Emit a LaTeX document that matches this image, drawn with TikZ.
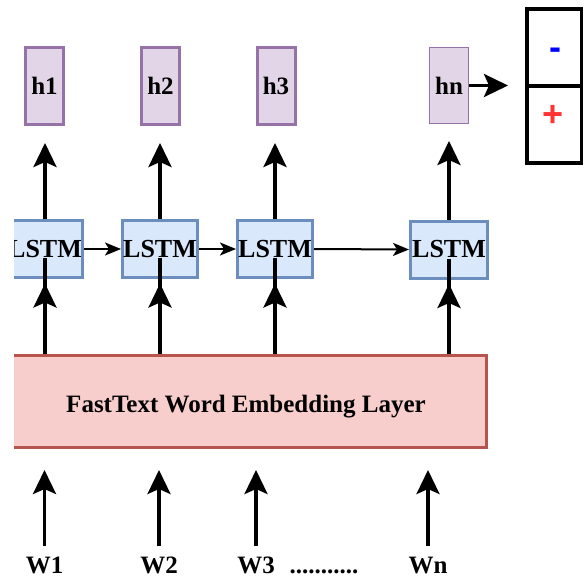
\documentclass[tikz,border=0pt]{standalone}
\usepackage{fontspec}
\setmainfont{Liberation Serif}
\newfontfamily\signfont{Liberation Sans}
\usetikzlibrary{arrows.meta}

\definecolor{hfill}{HTML}{E1D5E7}
\definecolor{hdraw}{HTML}{9673A6}
\definecolor{lfill}{HTML}{DAE8FC}
\definecolor{ldraw}{HTML}{6C8EBF}
\definecolor{efill}{HTML}{F8CECC}
\definecolor{edraw}{HTML}{B85450}
\definecolor{minuscol}{HTML}{0000FF}
\definecolor{pluscol}{HTML}{FF3333}

\tikzset{
  lbl/.style={font=\fontsize{25}{29}\selectfont\bfseries, inner sep=0pt},
  hbox/.style={lbl, draw=hdraw, fill=hfill, line width=3pt,
    minimum width=38pt, minimum height=77pt},
  lstmbox/.style={lbl, font=\fontsize{26}{30}\selectfont\bfseries,
    draw=ldraw, fill=lfill, line width=3pt,
    minimum width=75pt, minimum height=57pt},
  embbox/.style={draw=edraw, fill=efill, line width=3pt,
    minimum width=481pt, minimum height=92pt, inner sep=0pt},
  outcell/.style={draw=black, line width=3.5pt, minimum width=54.5pt,
    minimum height=76.5pt, inner sep=0pt},
  sign/.style={font=\fontsize{36}{40}\selectfont\signfont\bfseries,
    inner sep=0pt, anchor=base},
  bigline/.style={line width=3.5pt},
  bigarrow/.style={line width=3.5pt,
    -{Stealth[length=24pt,width=23pt,inset=5pt]}},
  smallarrow/.style={line width=2pt,
    -{Stealth[length=16pt,width=13pt,inset=4pt]}},
}

\begin{document}
\begin{tikzpicture}[x=1pt, y=-1pt]
\useasboundingbox (0,0) rectangle (584,578);

% hidden-state outputs
\node[hbox] (h1) at (44.5,86) {h1};
\node[hbox] (h2) at (160.5,86) {h2};
\node[hbox] (h3) at (276,86) {h3};
\node[hbox, line width=1pt, minimum width=39pt, minimum height=76pt]
  (hn) at (449,85.5) {hn};

% embedding layer and first cell are cut at the left edge
\begin{scope}
  \clip (14,0) rectangle (600,578);
  \node[embbox] (emb) at (246,401.5) {};
  \node[lstmbox] (l1) at (45,249) {LSTM};
\end{scope}
\node[lbl, anchor=base] (embtext) at (246,412) {FastText Word Embedding Layer};

% LSTM cells
\node[lstmbox] (l2) at (160,249) {LSTM};
\node[lstmbox] (l3) at (275,249) {LSTM};
\node[lstmbox, minimum width=77pt] (l4) at (449,249.5) {LSTM};

% classifier output
\node[outcell] (outtop) at (554,47.5) {};
\node[outcell, minimum height=77pt] (outbot) at (554,124.5) {};
\node[sign, text=minuscol] (sminus) at (555,60) {-};
\node[sign, text=pluscol] (splus) at (553,126.5) {+};

% input words
\node[lbl, anchor=base] (w1) at (44.5,573) {W1};
\node[lbl, anchor=base] (w2) at (159,573) {W2};
\node[lbl, anchor=base] (w3) at (256,573) {W3};
\node[lbl, anchor=base] (dots) at (324,573) {...........};
\node[lbl, anchor=base] (wn) at (428,573) {Wn};

% words into the embedding layer
\foreach \w in {w1,w2,w3,wn}
  \draw[bigarrow, shorten <=10pt, shorten >=21pt]
    (\w.north) -- (emb.south -| \w.north);

% embedding into the cells
\foreach \c in {l1,l2,l3,l4} {
  \draw[bigarrow] (emb.north -| \c.center) -- ([yshift=-4.5pt]\c.south);
  \draw[bigline] ([yshift=-12pt]\c.south) -- ([yshift=-9pt]\c.center);
}

% recurrent links
\draw[smallarrow] (l1.east) -- (l2.west);
\draw[smallarrow] (l2.east) -- (l3.west);
\draw[smallarrow] (l3.east) -- (l4.west);

% cells to hidden states
\draw[bigarrow, shorten >=17pt] (l1.north) -- (h1.south -| l1.north);
\draw[bigarrow, shorten >=17pt] (l2.north) -- (h2.south -| l2.north);
\draw[bigarrow, shorten >=17pt] (l3.north) -- (h3.south -| l3.north);
\draw[bigarrow, shorten >=17pt] (l4.north) -- (hn.south -| l4.north);

% last state to the output
\draw[bigarrow, shorten >=17pt] (hn.east) -- (hn.east -| outtop.west);
\end{tikzpicture}
\end{document}
